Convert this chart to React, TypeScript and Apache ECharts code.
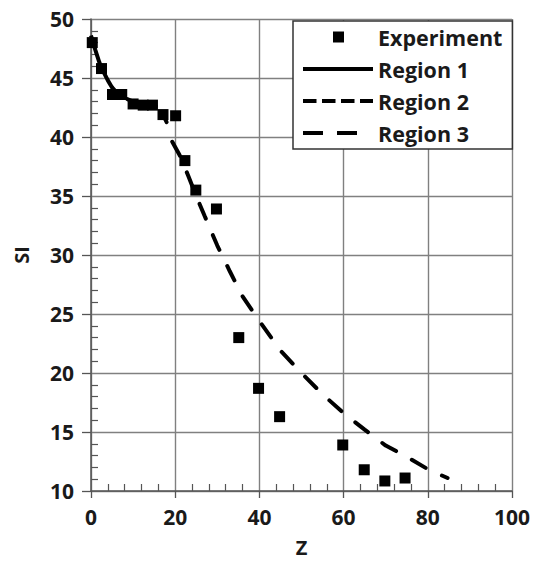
import React, { useEffect, useRef } from "react";
import * as echarts from "echarts";

const expZ = [0.3, 2.5, 5.1, 7.3, 10, 12.4, 14.6, 17.1, 20.1, 22.3, 24.9, 29.8, 35.1, 39.8, 44.8, 59.8, 64.9, 69.8, 74.6];
const expSI = [48, 45.8, 43.6, 43.6, 42.8, 42.7, 42.7, 41.9, 41.8, 38, 35.5, 33.9, 23, 18.7, 16.3, 13.9, 11.8, 10.85, 11.1];

const r1Z = [0, 1, 2, 3, 4, 5];
const r1SI = [48.6, 47.4, 46.3, 45.5, 44.8, 44.2];

const r2Z = [5, 6, 8, 10, 12, 14, 15.5, 16.5, 17.5, 18.3];
const r2SI = [44.2, 43.8, 43.3, 43.0, 42.8, 42.7, 42.6, 42.2, 41.6, 41.0];

const r3Z = [19.3, 21, 23, 25, 27, 30, 33, 36, 40, 45, 50, 55, 60, 65, 70, 75, 80, 84.7];
const r3SI = [39.6, 38.5, 36.8, 35.0, 33.3, 30.8, 28.6, 26.5, 24.4, 21.9, 20.0, 18.2, 16.6, 15.2, 13.85, 12.9, 11.85, 11.1];

const zip = (a: number[], b: number[]) => a.map((v, i) => [v, b[i]]);

const FONT = "Open Sans";

export default function App() {
  const ref = useRef<HTMLDivElement>(null);
  useEffect(() => {
    if (!ref.current) return;
    const chart = echarts.init(ref.current, null, { renderer: "svg" });
    const axisColor = "#555";
    const gridColor = "#808080";
    const labelStyle = { color: "#1a1a1a", fontFamily: FONT, fontWeight: "bold" as const, fontSize: 21 };
    chart.setOption({
      animation: false,
      backgroundColor: "#fff",
      grid: { left: 91, right: 20, top: 19, bottom: 71 },
      legend: {
        orient: "vertical",
        left: 293,
        top: 21,
        padding: [5, 10, 5, 10],
        itemGap: 10,
        itemWidth: 70,
        itemHeight: 14,
        align: "left",
        borderColor: "#333",
        borderWidth: 1.5,
        borderRadius: 0,
        backgroundColor: "#fff",
        itemStyle: { opacity: 1 },
        textStyle: { color: "#1a1a1a", fontFamily: FONT, fontWeight: "bold", fontSize: 21.5, lineHeight: 22 },
        data: [
          { name: "Experiment", icon: "path://M0,0M70,14M30,1.5h11v11h-11z", itemStyle: { opacity: 1, color: "#000" } },
          { name: "Region 1", icon: "path://M0,0M70,14M0,5h70v4h-70z" },
          {
            name: "Region 2",
            icon: "path://M0,0M70,14M0,5h13.5v4h-13.5zM19,5h13.5v4h-13.5zM38,5h13.5v4h-13.5zM57,5h13v4h-13z",
          },
          { name: "Region 3", icon: "path://M0,0M70,14M0,5h20v4h-20zM34,5h20v4h-20z" },
        ],
      },
      xAxis: {
        type: "value",
        min: 0,
        max: 100,
        interval: 20,
        name: "Z",
        nameLocation: "middle",
        nameGap: 46,
        nameTextStyle: { ...labelStyle, fontSize: 20 },
        axisLine: { lineStyle: { color: axisColor, width: 1.5 } },
        axisTick: { show: true, length: 7, lineStyle: { color: axisColor, width: 1.3 } },
        minorTick: { show: true, splitNumber: 5, length: -7, lineStyle: { color: axisColor, width: 1.2 } },
        axisLabel: { ...labelStyle, margin: 15 },
        splitLine: { show: true, lineStyle: { color: gridColor, width: 1.4 } },
      },
      yAxis: {
        type: "value",
        min: 10,
        max: 50,
        interval: 5,
        name: "SI",
        nameLocation: "middle",
        nameGap: 60,
        nameTextStyle: { ...labelStyle, fontSize: 20 },
        axisLine: { show: true, lineStyle: { color: axisColor, width: 1.5 } },
        axisTick: { show: true, length: 9, lineStyle: { color: axisColor, width: 1.3 } },
        minorTick: { show: true, splitNumber: 5, length: -7, lineStyle: { color: axisColor, width: 1.2 } },
        axisLabel: { ...labelStyle, margin: 17 },
        splitLine: { show: true, lineStyle: { color: gridColor, width: 1.4 } },
      },
      series: [
        {
          name: "Experiment",
          type: "scatter",
          symbol: "rect",
          symbolSize: 11,
          itemStyle: { color: "#000", opacity: 1 },
          data: zip(expZ, expSI),
          z: 5,
        },
        {
          name: "Region 1",
          type: "line",
          symbol: "none",
          color: "#000",
          lineStyle: { color: "#000", width: 4, type: "solid" },
          data: zip(r1Z, r1SI),
        },
        {
          name: "Region 2",
          type: "line",
          symbol: "none",
          color: "#000",
          lineStyle: { color: "#000", width: 4, type: [10, 9.5], cap: "round" },
          data: zip(r2Z, r2SI),
        },
        {
          name: "Region 3",
          type: "line",
          symbol: "none",
          color: "#000",
          lineStyle: { color: "#000", width: 4, type: [16, 18], cap: "round" },
          data: zip(r3Z, r3SI),
        },
      ],
    });
    return () => chart.dispose();
  }, []);
  return <div ref={ref} style={{ width: 533, height: 562, position: "absolute", left: 0, top: 0 }} />;
}
